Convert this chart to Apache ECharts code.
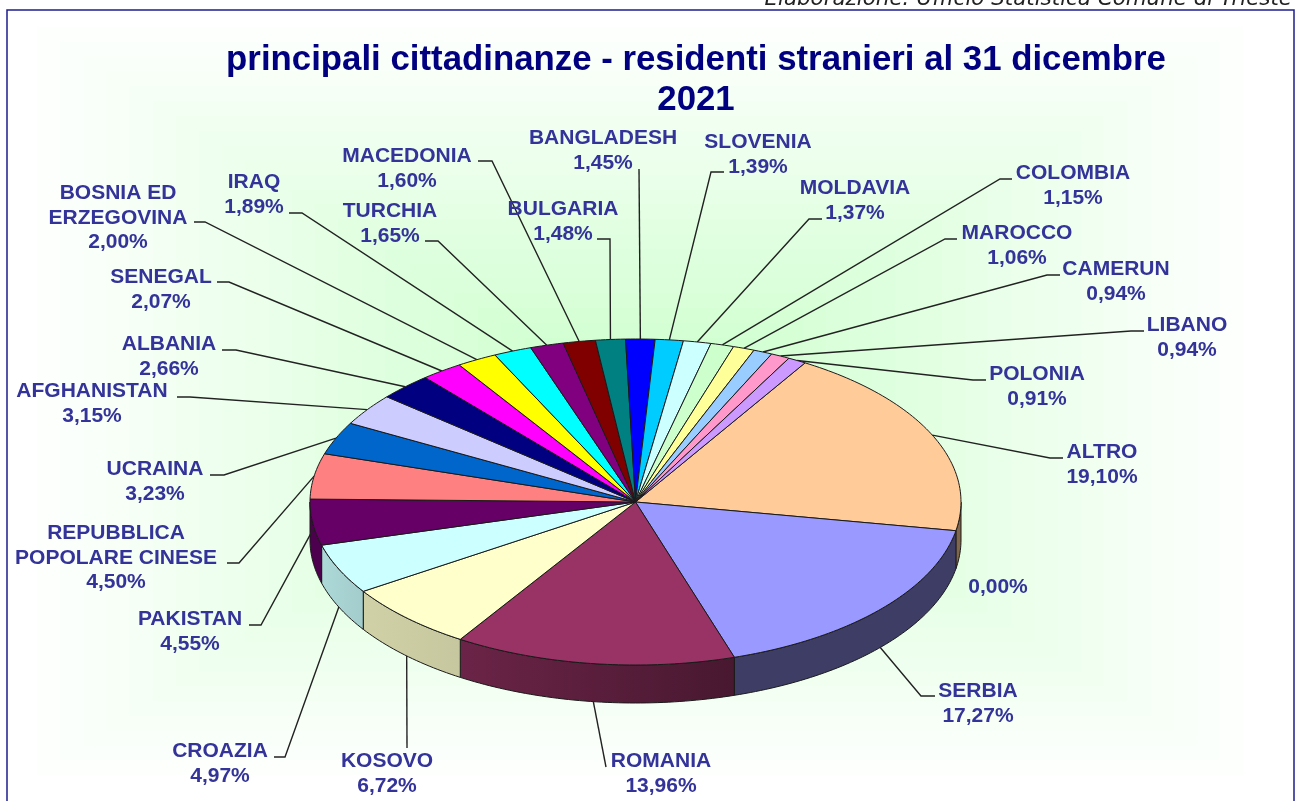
<!DOCTYPE html>
<html>
<head>
<meta charset="utf-8">
<style>
  html, body { margin: 0; padding: 0; background: #fff; overflow: hidden; }
  #chart { width: 1295px; height: 801px; }
</style>
<script src="https://cdn.jsdelivr.net/npm/echarts@6/dist/echarts.min.js"></script>
</head>
<body>
<div id="chart"></div>
<script>
  const categories = ['ALTRO', '', 'SERBIA', 'ROMANIA', 'KOSOVO', 'CROAZIA', 'PAKISTAN',
    'REPUBBLICA\nPOPOLARE CINESE', 'UCRAINA', 'AFGHANISTAN', 'ALBANIA', 'SENEGAL',
    'BOSNIA ED\nERZEGOVINA', 'IRAQ', 'TURCHIA', 'MACEDONIA', 'BULGARIA', 'BANGLADESH',
    'SLOVENIA', 'MOLDAVIA', 'COLOMBIA', 'MAROCCO', 'CAMERUN', 'LIBANO', 'POLONIA']
  const values = [19.10, 0, 17.27, 13.96, 6.72, 4.97, 4.55, 4.50, 3.23, 3.15, 2.66, 2.07,
    2.00, 1.89, 1.65, 1.60, 1.48, 1.45, 1.39, 1.37, 1.15, 1.06, 0.94, 0.94, 0.91]
  const sliceColors = ['#FFCC99', '#FFFFFF', '#9999FF', '#993366', '#FFFFCC', '#CCFFFF', '#660066',
    '#FF8080', '#0066CC', '#CCCCFF', '#000080', '#FF00FF', '#FFFF00', '#00FFFF', '#800080',
    '#800000', '#008080', '#0000FF', '#00CCFF', '#CCFFFF', '#CCFFCC', '#FFFF99', '#99CCFF',
    '#FF99CC', '#CC99FF']

  // chart layout, not data
  const cx = 635.5, cy = 502, rx = 325.5, ry = 163, depth = 38
  const firstSliceStart = -58.6
  // centre of each label block
  const labelCenters = [[1102, 465], [998, 587], [978, 704], [661, 774], [387, 774], [220, 764],
    [190, 632], [116, 558], [155, 482], [92, 404], [169, 357], [161, 290], [118, 218], [254, 195],
    [390, 224], [407, 169], [563, 222], [603, 151], [758, 155], [855, 201], [1073, 186], [1017, 246],
    [1116, 282], [1187, 338], [1037, 387]]
  // leader line: outer end and elbow, the inner end comes from the slice angle
  const leaderPoints = [
    [[1063, 458], [1050, 458]], null, [[935, 696], [921, 696]], [[606, 767]], [[407, 748]],
    [[274, 757], [285, 757]], [[249, 625], [261, 625]], [[227, 563], [239, 563]],
    [[210, 475], [224, 475]], [[177, 397], [190, 397]], [[222, 350], [236, 350]],
    [[217, 282], [229, 282]], [[194, 222], [205, 222]], [[289, 213], [302, 213]],
    [[425, 241], [438, 241]], [[478, 161], [492, 161]], [[597, 239], [610, 239]],
    [[639, 169]], [[724, 172], [711, 172]], [[822, 219], [809, 219]], [[1012, 179], [1000, 179]],
    [[957, 239], [945, 239]], [[1060, 275], [1047, 275]], [[1144, 331], [1131, 331]],
    [[986, 380], [973, 380]]]
  // darkening of the visible side of the slices, left to right
  const wallShades = { 0: [0.5, 0.5], 2: [0.4, 0.4], 3: [0.7, 0.47], 4: [0.82, 0.78], 5: [0.85, 0.8], 6: [0.75, 0.75] }

  const total = values.reduce((a, b) => a + b, 0)
  const sliceAngles = []
  let running = firstSliceStart
  values.forEach(v => {
    const sweep = v / total * 360
    sliceAngles.push([running, running + sweep])
    running += sweep
  })

  function rimPoint(deg, drop) {
    const a = deg * Math.PI / 180
    return [cx + rx * Math.cos(a), cy + ry * Math.sin(a) + (drop || 0)]
  }

  function arcPoints(from, to, drop) {
    const pts = []
    const n = Math.max(2, Math.ceil(Math.abs(to - from)))
    for (let i = 0; i <= n; i++) pts.push(rimPoint(from + (to - from) * i / n, drop))
    return pts
  }

  function shade(hex, f) {
    const n = parseInt(hex.slice(1), 16)
    const ch = [n >> 16, (n >> 8) & 255, n & 255].map(c => Math.round(c * f))
    return 'rgb(' + ch.join(',') + ')'
  }

  function renderWall(params, api) {
    const i = api.value(0)
    const from = Math.max(sliceAngles[i][0], 0)
    const to = Math.min(sliceAngles[i][1], 180)
    if (api.value(1) === 0 || to <= from) return null
    const s = wallShades[i]
    return {
      type: 'polygon',
      shape: { points: arcPoints(from, to, 0).concat(arcPoints(to, from, depth)) },
      style: {
        fill: new echarts.graphic.LinearGradient(0, 0, 1, 0, [
          { offset: 0, color: shade(sliceColors[i], s[0]) },
          { offset: 1, color: shade(sliceColors[i], s[1]) }
        ]),
        stroke: '#1a1a1a',
        lineWidth: 1
      }
    }
  }

  function renderFace(params, api) {
    const i = api.value(0)
    if (api.value(1) === 0) return null
    return {
      type: 'polygon',
      shape: { points: [[cx, cy]].concat(arcPoints(sliceAngles[i][0], sliceAngles[i][1], 0)) },
      style: { fill: sliceColors[i], stroke: '#1a1a1a', lineWidth: 1 }
    }
  }

  function renderLeader(params, api) {
    const i = api.value(0)
    if (!leaderPoints[i]) return null
    const mid = (sliceAngles[i][0] + sliceAngles[i][1]) / 2
    const sin = Math.sin(mid * Math.PI / 180)
    const drop = sin > 0.3 ? depth : (sin > 0 ? 8 : 0)
    return {
      type: 'polyline',
      shape: { points: leaderPoints[i].concat([rimPoint(mid, drop)]) },
      style: { fill: null, stroke: '#222222', lineWidth: 1.4 }
    }
  }

  function renderLabel(params, api) {
    const i = api.value(0)
    const pct = api.value(1).toFixed(2).replace('.', ',') + '%'
    return {
      type: 'text',
      style: {
        x: labelCenters[i][0],
        y: labelCenters[i][1],
        text: categories[i] ? categories[i] + '\n' + pct : pct,
        align: 'center',
        verticalAlign: 'middle',
        fill: '#333399',
        font: 'bold 21px "Liberation Sans", Arial, sans-serif',
        lineHeight: 24.6
      }
    }
  }

  // stepped rectangular gradient behind the pie
  const bands = []
  const bandCount = 25
  for (let b = 0; b < bandCount; b++) {
    const t = b / bandCount
    const g = Math.round(255 - 51 * (b + 1) / bandCount)
    bands.push({
      type: 'rect',
      silent: true,
      shape: { x: 37 + 580 * t, y: 27 + 370 * t, width: 1206 - 1160 * t, height: 748 - 740 * t },
      style: { fill: 'rgb(' + g + ',255,' + g + ')' }
    })
  }

  const chart = echarts.init(document.getElementById('chart'), null, { renderer: 'canvas' })
  const rows = values.map((v, i) => [i, v])
  const customSeries = (renderItem, z) => ({
    type: 'custom',
    coordinateSystem: 'none',
    renderItem: renderItem,
    data: rows,
    z: z,
    silent: true,
    animation: false
  })

  chart.setOption({
    animation: false,
    backgroundColor: '#ffffff',
    title: {
      text: 'principali cittadinanze - residenti stranieri al 31 dicembre\n2021',
      left: 691,
      top: 35,
      textAlign: 'center',
      textStyle: {
        color: '#000080',
        fontFamily: '"Liberation Sans", Arial, sans-serif',
        fontWeight: 'bold',
        fontSize: 34.8,
        lineHeight: 40
      }
    },
    graphic: [
      {
        type: 'rect',
        silent: true,
        shape: { x: 7, y: 10, width: 1287, height: 800 },
        style: { fill: '#ffffff', stroke: '#1c1c8c', lineWidth: 1.5 }
      },
      ...bands,
      {
        type: 'text',
        silent: true,
        style: {
          x: 1292,
          y: 10,
          text: 'Elaborazione: Ufficio Statistica Comune di Trieste',
          align: 'right',
          verticalAlign: 'bottom',
          fill: '#222222',
          font: 'italic 21.4px "DejaVu Sans", Verdana, sans-serif'
        }
      }
    ],
    series: [
      customSeries(renderWall, 2),
      customSeries(renderLeader, 3),
      customSeries(renderFace, 4),
      customSeries(renderLabel, 5)
    ]
  })
</script>
</body>
</html>
